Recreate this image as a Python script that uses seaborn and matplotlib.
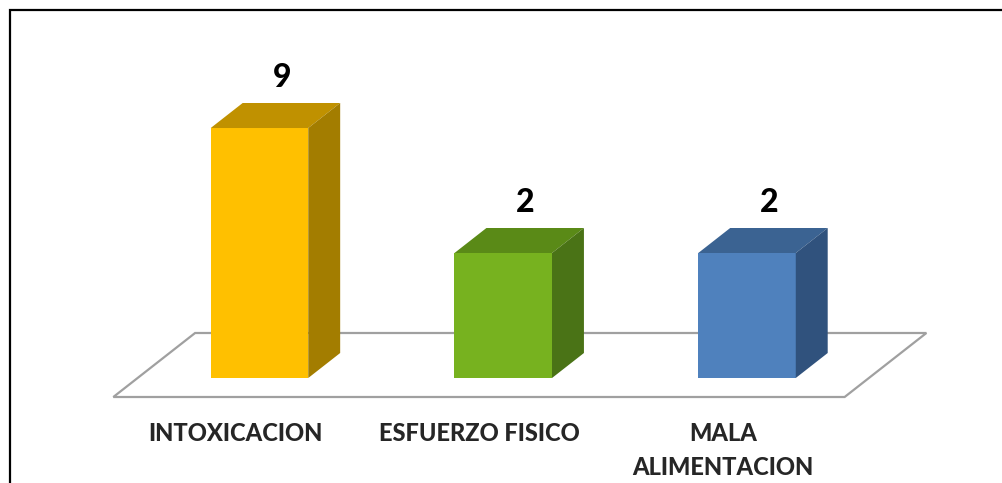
import matplotlib
matplotlib.use("Agg")
import matplotlib.pyplot as plt
from matplotlib.patches import Rectangle, Polygon
import seaborn as sns

# Datos del grafico
categorias = ["INTOXICACION", "ESFUERZO FISICO", "MALA\nALIMENTACION"]
valores = [9, 2, 2]

# Colores (cara frontal, cara superior, cara lateral)
color_frente = ["#FFC000", "#77B21F", "#4F81BD"]
color_arriba = ["#C09100", "#5A8A17", "#3B6392"]
color_lado = ["#A37D00", "#4A7316", "#30527D"]

# Eje vertical: el piso del grafico 3D no empieza en cero
Y_MIN = -5
Y_MAX = 12
# Profundidad del efecto 3D (en unidades de categoria / valor)
DX = 0.131
DY = 1.4

sns.set_style("white")
plt.rcParams["font.family"] = ["Lato", "DejaVu Sans"]

fig = plt.figure(figsize=(10.02, 4.83), dpi=100)
ax = fig.add_axes([137.6 / 1002, 105 / 483, 731.3 / 1002, 17.857 * (Y_MAX - Y_MIN) / 483])

sns.barplot(x=categorias, y=valores, hue=categorias, palette=color_frente,
            legend=False, width=0.4, saturation=1, ax=ax, zorder=3)
ax.set_xlim(-0.5, 2.5)
ax.set_ylim(Y_MIN, Y_MAX)

# Piso en perspectiva
frente, fondo = -0.76, 1.8
piso = [(-0.5 + frente * DX, Y_MIN + frente * DY),
        (2.5 + frente * DX, Y_MIN + frente * DY),
        (2.5 + fondo * DX, Y_MIN + fondo * DY),
        (-0.5 + fondo * DX, Y_MIN + fondo * DY)]
ax.add_patch(Polygon(piso, closed=True, facecolor="white", edgecolor="#A0A0A0",
                     lw=1.6, zorder=1, clip_on=False))

# Convertir barras a prismas 3D
barras = [c.patches[0] for c in ax.containers]
for i, (p, v) in enumerate(zip(barras, valores)):
    p.set_y(Y_MIN)
    p.set_height(v - Y_MIN)
    p.set_edgecolor("none")
    x0, w = p.get_x(), p.get_width()
    arriba = [(x0, v), (x0 + DX, v + DY), (x0 + w + DX, v + DY), (x0 + w, v)]
    lado = [(x0 + w, Y_MIN), (x0 + w, v), (x0 + w + DX, v + DY), (x0 + w + DX, Y_MIN + DY)]
    ax.add_patch(Polygon(arriba, closed=True, facecolor=color_arriba[i], edgecolor="none", zorder=3))
    ax.add_patch(Polygon(lado, closed=True, facecolor=color_lado[i], edgecolor="none", zorder=3))
    ax.text(i + 0.7 * DX, v + DY + 1.45, str(v), ha="center", va="center",
            fontsize=23, fontweight="black", color="black", clip_on=False)

# Etiquetas de categorias alineadas con el frente del piso
ax.set_xticks([i + frente * DX for i in range(len(categorias))])
ax.set_xticklabels(categorias, fontsize=17, fontweight="black", linespacing=1.55)
ax.tick_params(axis="x", length=0, pad=32)
ax.set_yticks([])
ax.set_xlabel("")
ax.set_ylabel("")
for s in ax.spines.values():
    s.set_visible(False)
ax.patch.set_alpha(0)

# Marco exterior
fig.patches.append(Rectangle((9.5 / 1002, -0.1), 1.2, 1 - 10 / 483 + 0.1,
                             transform=fig.transFigure, fill=False,
                             edgecolor="black", lw=1.6, zorder=0))

fig.savefig("out.png", dpi=100)
